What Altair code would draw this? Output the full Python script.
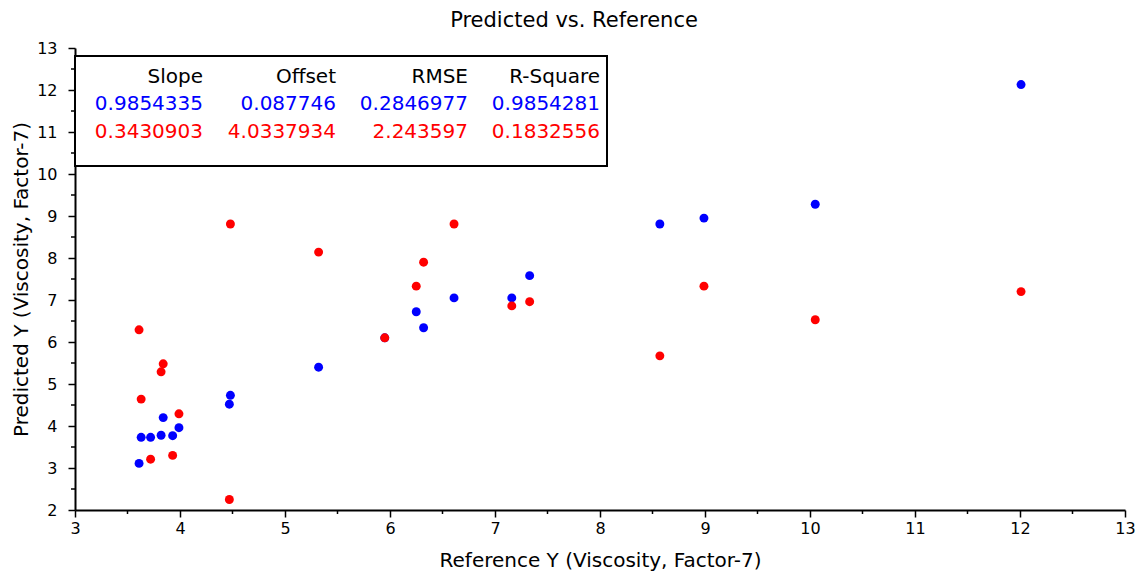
import altair as alt
import pandas as pd

# ---------------- data ----------------
reference_y = [3.61, 3.63, 3.72, 3.82, 3.84, 3.93, 3.99, 4.47, 4.48, 5.32,
               5.95, 6.25, 6.32, 6.61, 7.16, 7.33, 8.57, 8.99, 10.05, 12.01]
predicted_blue = [3.11, 3.73, 3.73, 3.78, 4.20, 3.77, 3.96, 4.52, 4.73, 5.40,
                  6.10, 6.72, 6.34, 7.05, 7.05, 7.58, 8.81, 8.95, 9.28, 12.13]
predicted_red = [6.29, 4.64, 3.21, 5.29, 5.48, 3.30, 4.29, 2.25, 8.81, 8.14,
                 6.10, 7.33, 7.90, 8.81, 6.86, 6.96, 5.67, 7.33, 6.53, 7.20]
series_names = ["Model 1", "Model 2"]
series_colors = ["#0000FF", "#FF0000"]

stat_headers = ["Slope", "Offset", "RMSE", "R-Square"]
stats_blue = ["0.9854335", "0.087746", "0.2846977", "0.9854281"]
stats_red = ["0.3430903", "4.0337934", "2.243597", "0.1832556"]

x_major = [3, 4, 5, 6, 7, 8, 9, 10, 11, 12, 13]
x_minor = [3.5, 4.5, 5.5, 6.5, 7.5, 8.5, 9.5, 10.5, 11.5, 12.5]
y_major = [2, 3, 4, 5, 6, 7, 8, 9, 10, 11, 12, 13]
y_minor = [2.5, 3.5, 4.5, 5.5, 6.5, 7.5, 8.5, 9.5, 10.5, 11.5, 12.5]

chart_title = "Predicted vs. Reference"
x_title = "Reference Y (Viscosity, Factor-7)"
y_title = "Predicted Y (Viscosity, Factor-7)"

# ---------------- layout ----------------
FONT = "DejaVu Sans"
W, H = 1050, 462
PAD = {"left": 75, "top": 48, "right": 13, "bottom": 61}

df = pd.DataFrame({
    "ref": reference_y * 2,
    "pred": predicted_blue + predicted_red,
    "series": [series_names[0]] * len(reference_y) + [series_names[1]] * len(reference_y),
})

x_scale = alt.Scale(domain=[3, 13], nice=False, zero=False)
y_scale = alt.Scale(domain=[2, 13], nice=False, zero=False)

x_axis = alt.Axis(values=x_major, grid=False, tickSize=7, tickWidth=1.5,
                  domainWidth=2, domainColor="black", tickColor="black",
                  labelFont=FONT, labelFontSize=16, labelColor="black",
                  labelPadding=3, titleFont=FONT, titleFontSize=20,
                  titleFontWeight="normal", titleColor="black",
                  titlePadding=14, labelFlush=False, title=x_title)
y_axis = alt.Axis(values=y_major, grid=False, tickSize=7, tickWidth=1.5,
                  domainWidth=2, domainColor="black", tickColor="black",
                  labelFont=FONT, labelFontSize=16, labelColor="black",
                  labelPadding=11, titleFont=FONT, titleFontSize=20,
                  titleFontWeight="normal", titleColor="black",
                  titlePadding=5, labelFlush=False, title=y_title)

points = alt.Chart(df).mark_circle(size=80, opacity=1).encode(
    x=alt.X("ref:Q", scale=x_scale, axis=x_axis),
    y=alt.Y("pred:Q", scale=y_scale, axis=y_axis),
    color=alt.Color("series:N", scale=alt.Scale(domain=series_names, range=series_colors),
                    legend=None),
    order=alt.Order("series:N", sort="ascending"),
)

xminor = alt.Chart(pd.DataFrame({"v": x_minor})).mark_rule(
    color="black", strokeWidth=1.5).encode(
    x=alt.X("v:Q", scale=x_scale, axis=x_axis),
    y=alt.value(H), y2=alt.value(H + 4))

yminor = alt.Chart(pd.DataFrame({"v": y_minor})).mark_rule(
    color="black", strokeWidth=1.5).encode(
    y=alt.Y("v:Q", scale=y_scale, axis=y_axis),
    x=alt.value(0), x2=alt.value(-4))

box = alt.Chart(pd.DataFrame({"a": [0]})).mark_rect(
    fill="white", stroke="black", strokeWidth=2).encode(
    x=alt.value(0), x2=alt.value(532), y=alt.value(8), y2=alt.value(118))

col_right = [128, 261, 393, 525]
row_base = [34.5, 62, 89.7]
rows = [(stat_headers, "black"), (stats_blue, series_colors[0]), (stats_red, series_colors[1])]
cells = []
for r, (vals, col) in enumerate(rows):
    for c, v in enumerate(vals):
        cells.append(
            alt.Chart(pd.DataFrame({"t": [v]})).mark_text(
                font=FONT, fontSize=20, color=col, align="right", baseline="alphabetic"
            ).encode(text="t:N", x=alt.value(col_right[c]), y=alt.value(row_base[r]))
        )

title_mark = alt.Chart(pd.DataFrame({"t": [chart_title]})).mark_text(
    font=FONT, fontSize=21, color="black", align="center", baseline="alphabetic"
).encode(text="t:N", x=alt.value(499), y=alt.value(-21))

chart = alt.layer(points, xminor, yminor, box, *cells, title_mark).properties(
    width=W, height=H,
    autosize=alt.AutoSizeParams(type="none"),
    padding=PAD,
    background="white",
).configure_view(stroke=None)

chart.save("out.html", embed_options={"renderer": "svg", "actions": False})
